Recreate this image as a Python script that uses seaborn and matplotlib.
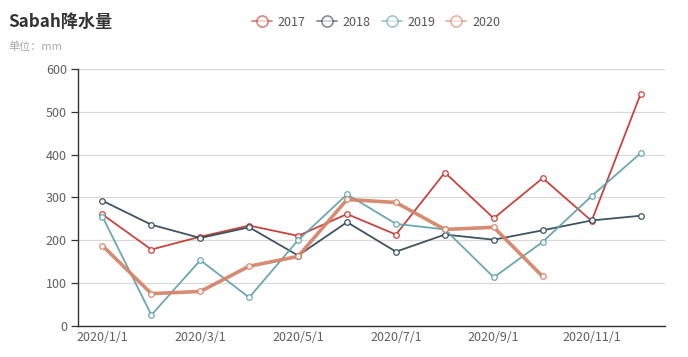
import matplotlib
matplotlib.use("Agg")
import matplotlib.pyplot as plt
import seaborn as sns
import pandas as pd
from matplotlib.lines import Line2D

months = ["2020/1/1", "2020/2/1", "2020/3/1", "2020/4/1", "2020/5/1", "2020/6/1",
          "2020/7/1", "2020/8/1", "2020/9/1", "2020/10/1", "2020/11/1", "2020/12/1"]
y2017 = [260, 178, 208, 234, 210, 261, 213, 358, 251, 345, 245, 541]
y2018 = [292, 236, 205, 230, 164, 242, 173, 213, 201, 223, 246, 257]
y2019 = [255, 25, 153, 66, 200, 307, 238, 225, 113, 196, 303, 403]
y2020 = [187, 75, 80, 139, 162, 295, 288, 225, 230, 115]
series_names = ["2017", "2018", "2019", "2020"]
colors = ["#c23531", "#2f4554", "#61a0a8", "#d48265"]
widths = [1.3, 1.3, 1.3, 2.6]

sns.set_theme(style="white")
plt.rcParams['font.family'] = ['Noto Sans CJK SC', 'DejaVu Sans']

rows = []
for name, vals in zip(series_names, [y2017, y2018, y2019, y2020]):
    for i, v in enumerate(vals):
        rows.append({"idx": i, "month": months[i], "value": v, "year": name})
df = pd.DataFrame(rows)

fig = plt.figure(figsize=(6.88, 3.57), dpi=100)
ax = fig.add_axes([78/688, (357-325.7)/357, (665-78)/688, (325.7-69)/357])

for name, col, lw in zip(series_names, colors, widths):
    sub = df[df["year"] == name]
    sns.lineplot(data=sub, x="idx", y="value", ax=ax, color=col, linewidth=lw,
                 marker="o", markersize=4, markerfacecolor="white",
                 markeredgecolor=col, markeredgewidth=0.9, legend=False, zorder=3,
                 alpha=0.92)

ax.set_xlim(-0.5, 11.5)
ax.set_ylim(0, 600)
ax.set_yticks([0, 100, 200, 300, 400, 500, 600])
ax.yaxis.grid(True, color="#d9d9d9", linewidth=0.9)
ax.set_axisbelow(True)
ax.set_xlabel("")
ax.set_ylabel("")

# labels on even months (no tick marks), tick marks on odd months
ax.set_xticks(list(range(1, 12, 2)))
ax.set_xticklabels([""] * 6)
ax.set_xticks(list(range(0, 12, 2)), minor=True)
ax.set_xticklabels([months[i] for i in range(0, 12, 2)], minor=True)
ax.tick_params(axis="x", which="major", length=5, width=0.9, color="#333333", direction="out")
ax.tick_params(axis="x", which="minor", length=0, labelsize=9, labelcolor="#606060", pad=4)
ax.tick_params(axis="y", length=5, width=0.9, color="#333333", labelsize=9,
               labelcolor="#606060", pad=3, left=True)

for s in ["top", "right"]:
    ax.spines[s].set_visible(False)
for s in ["left", "bottom"]:
    ax.spines[s].set_color("#333333")
    ax.spines[s].set_linewidth(1.0)

fig.text(8/688, 1 - 22/357, "Sabah降水量", fontsize=12.3, fontweight="bold",
         color="#333333", va="center", ha="left")
fig.text(8/688, 1 - 47/357, "单位：mm", fontsize=8, color="#aaaaaa", va="center", ha="left")

handles = [Line2D([0], [0], color=c, linewidth=1.3, marker="o", markersize=8,
                  markerfacecolor="white", markeredgecolor=c, markeredgewidth=1.2, alpha=0.6)
           for c in colors]
fig.legend(handles, series_names, loc="center", bbox_to_anchor=(376/688, 1 - 22/357),
           ncol=4, frameon=False, fontsize=9, handlelength=1.6, handletextpad=0.45,
           columnspacing=0.9, labelcolor="#555555")

fig.savefig("out.png", dpi=100)
